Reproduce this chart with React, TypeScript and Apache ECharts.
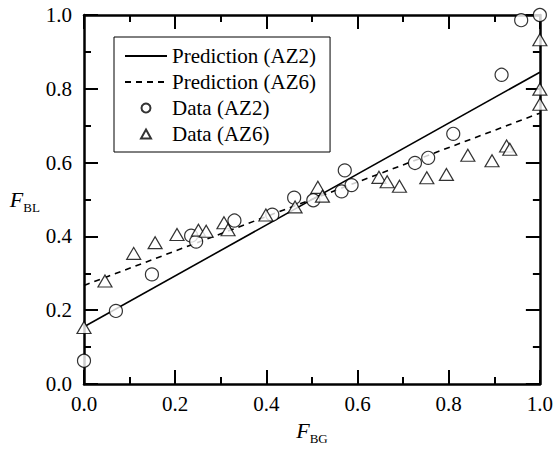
import React, { useEffect, useRef } from "react";
import * as echarts from "echarts";

const FONT = "'Liberation Serif', 'Times New Roman', serif";

// Axis ticks (both axes): 0.0 .. 1.0 step 0.2, minor at 0.1
const axisMin = 0;
const axisMax = 1;
const axisInterval = 0.2;

// Prediction lines [F_BG, F_BL]
const predAZ2: number[][] = [
  [0, 0.155],
  [1, 0.845],
];
const predAZ6: number[][] = [
  [0, 0.267],
  [1, 0.734],
];

// Measured data (AZ2) — circles
const dataAZ2: number[][] = [
  [0.0, 0.063],
  [0.07, 0.198],
  [0.149, 0.297],
  [0.235, 0.402],
  [0.246, 0.386],
  [0.33, 0.443],
  [0.413, 0.459],
  [0.461, 0.505],
  [0.503, 0.498],
  [0.565, 0.522],
  [0.572, 0.579],
  [0.587, 0.539],
  [0.726, 0.599],
  [0.755, 0.613],
  [0.81, 0.678],
  [0.916, 0.838],
  [0.959, 0.986],
  [1.0, 1.0],
];

// Measured data (AZ6) — triangles
const dataAZ6: number[][] = [
  [0.0, 0.153],
  [0.046, 0.279],
  [0.109, 0.354],
  [0.156, 0.383],
  [0.204, 0.405],
  [0.251, 0.417],
  [0.268, 0.414],
  [0.307, 0.437],
  [0.316, 0.418],
  [0.399, 0.458],
  [0.463, 0.48],
  [0.513, 0.533],
  [0.523, 0.509],
  [0.647, 0.56],
  [0.665, 0.548],
  [0.692, 0.536],
  [0.752, 0.559],
  [0.795, 0.568],
  [0.842, 0.62],
  [0.895, 0.605],
  [0.927, 0.645],
  [0.934, 0.636],
  [1.0, 0.758],
  [1.0, 0.799],
  [1.0, 0.933],
];

const seriesNames = ["Prediction (AZ2)", "Prediction (AZ6)", "Data (AZ2)", "Data (AZ6)"];

function baseAxis(extra: any) {
  return {
    type: "value",
    min: axisMin,
    max: axisMax,
    interval: axisInterval,
    axisLine: { show: true, onZero: false, lineStyle: { color: "#000", width: 2.5 } },
    axisTick: { show: true, inside: true, length: 14, lineStyle: { color: "#000", width: 2 } },
    minorTick: { show: true, splitNumber: 2, length: 7, lineStyle: { color: "#000", width: 2 } },
    splitLine: { show: false },
    minorSplitLine: { show: false },
    ...extra,
  };
}

const labelStyle = {
  color: "#000",
  fontFamily: FONT,
  fontSize: 21,
  formatter: (v: number) => v.toFixed(1),
};

const nameRich = {
  i: { fontFamily: FONT, fontSize: 22, fontStyle: "italic", color: "#000" },
  s: { fontFamily: FONT, fontSize: 13, color: "#000", padding: [16, 0, 0, 0] },
};

// Triangle legend icon path (keeps aspect)
const triIcon = "path://M5,0 L10,9 L0,9 Z";

export default function App() {
  const ref = useRef<HTMLDivElement>(null);

  useEffect(() => {
    if (!ref.current) return;
    const chart = echarts.init(ref.current, undefined, { renderer: "svg" });
    chart.setOption({
      animation: false,
      backgroundColor: "#fff",
      grid: { left: 84, right: 14, top: 15, bottom: 65, containLabel: false },
      legend: {
        data: [
          { name: seriesNames[0], itemStyle: { opacity: 0 } },
          { name: seriesNames[1], itemStyle: { opacity: 0 } },
          { name: seriesNames[2], icon: "circle" },
          { name: seriesNames[3], icon: triIcon },
        ],
        orient: "vertical",
        left: 114,
        top: 37,
        padding: [6, 14, 5, 10],
        borderColor: "#000",
        borderWidth: 1,
        itemWidth: 42,
        itemHeight: 9,
        itemGap: 0,
        symbolKeepAspect: true,
        selectedMode: false,
        textStyle: { fontFamily: FONT, fontSize: 21, color: "#000", lineHeight: 26 },
      },
      xAxis: [
        baseAxis({
          position: "bottom",
          name: "{i|F}{s|BG}",
          nameLocation: "middle",
          nameGap: 32,
          nameTextStyle: { rich: nameRich },
          axisLabel: { ...labelStyle, margin: 9 },
        }),
        baseAxis({ position: "top", axisLabel: { show: false } }),
      ],
      yAxis: [
        baseAxis({
          position: "left",
          name: "{i|F}{s|BL}",
          nameLocation: "middle",
          nameRotate: 0,
          nameGap: 41,
          nameTextStyle: { rich: nameRich },
          axisLabel: { ...labelStyle, margin: 12 },
        }),
        baseAxis({ position: "right", axisLabel: { show: false } }),
      ],
      series: [
        {
          name: seriesNames[0],
          type: "line",
          data: predAZ2,
          symbol: "none",
          clip: false,
          color: "#000",
          itemStyle: { color: "#000" },
          lineStyle: { color: "#000", width: 1.6, type: "solid" },
          z: 2,
        },
        {
          name: seriesNames[1],
          type: "line",
          data: predAZ6,
          symbol: "none",
          clip: false,
          color: "#000",
          itemStyle: { color: "#000" },
          lineStyle: { color: "#000", width: 1.6, type: [6, 5] },
          z: 2,
        },
        {
          name: seriesNames[2],
          type: "scatter",
          data: dataAZ2,
          symbol: "circle",
          symbolSize: 13,
          clip: false,
          itemStyle: { color: "#fff", borderColor: "#000", borderWidth: 1.2 },
          z: 3,
        },
        {
          name: seriesNames[3],
          type: "scatter",
          data: dataAZ6,
          symbol: "triangle",
          symbolSize: [14, 12],
          clip: false,
          itemStyle: { color: "#fff", borderColor: "#000", borderWidth: 1.2 },
          z: 4,
        },
      ],
    });
    return () => chart.dispose();
  }, []);

  return (
    <div
      ref={ref}
      style={{ position: "fixed", left: 0, top: 0, width: 556, height: 450, background: "#fff" }}
    />
  );
}
